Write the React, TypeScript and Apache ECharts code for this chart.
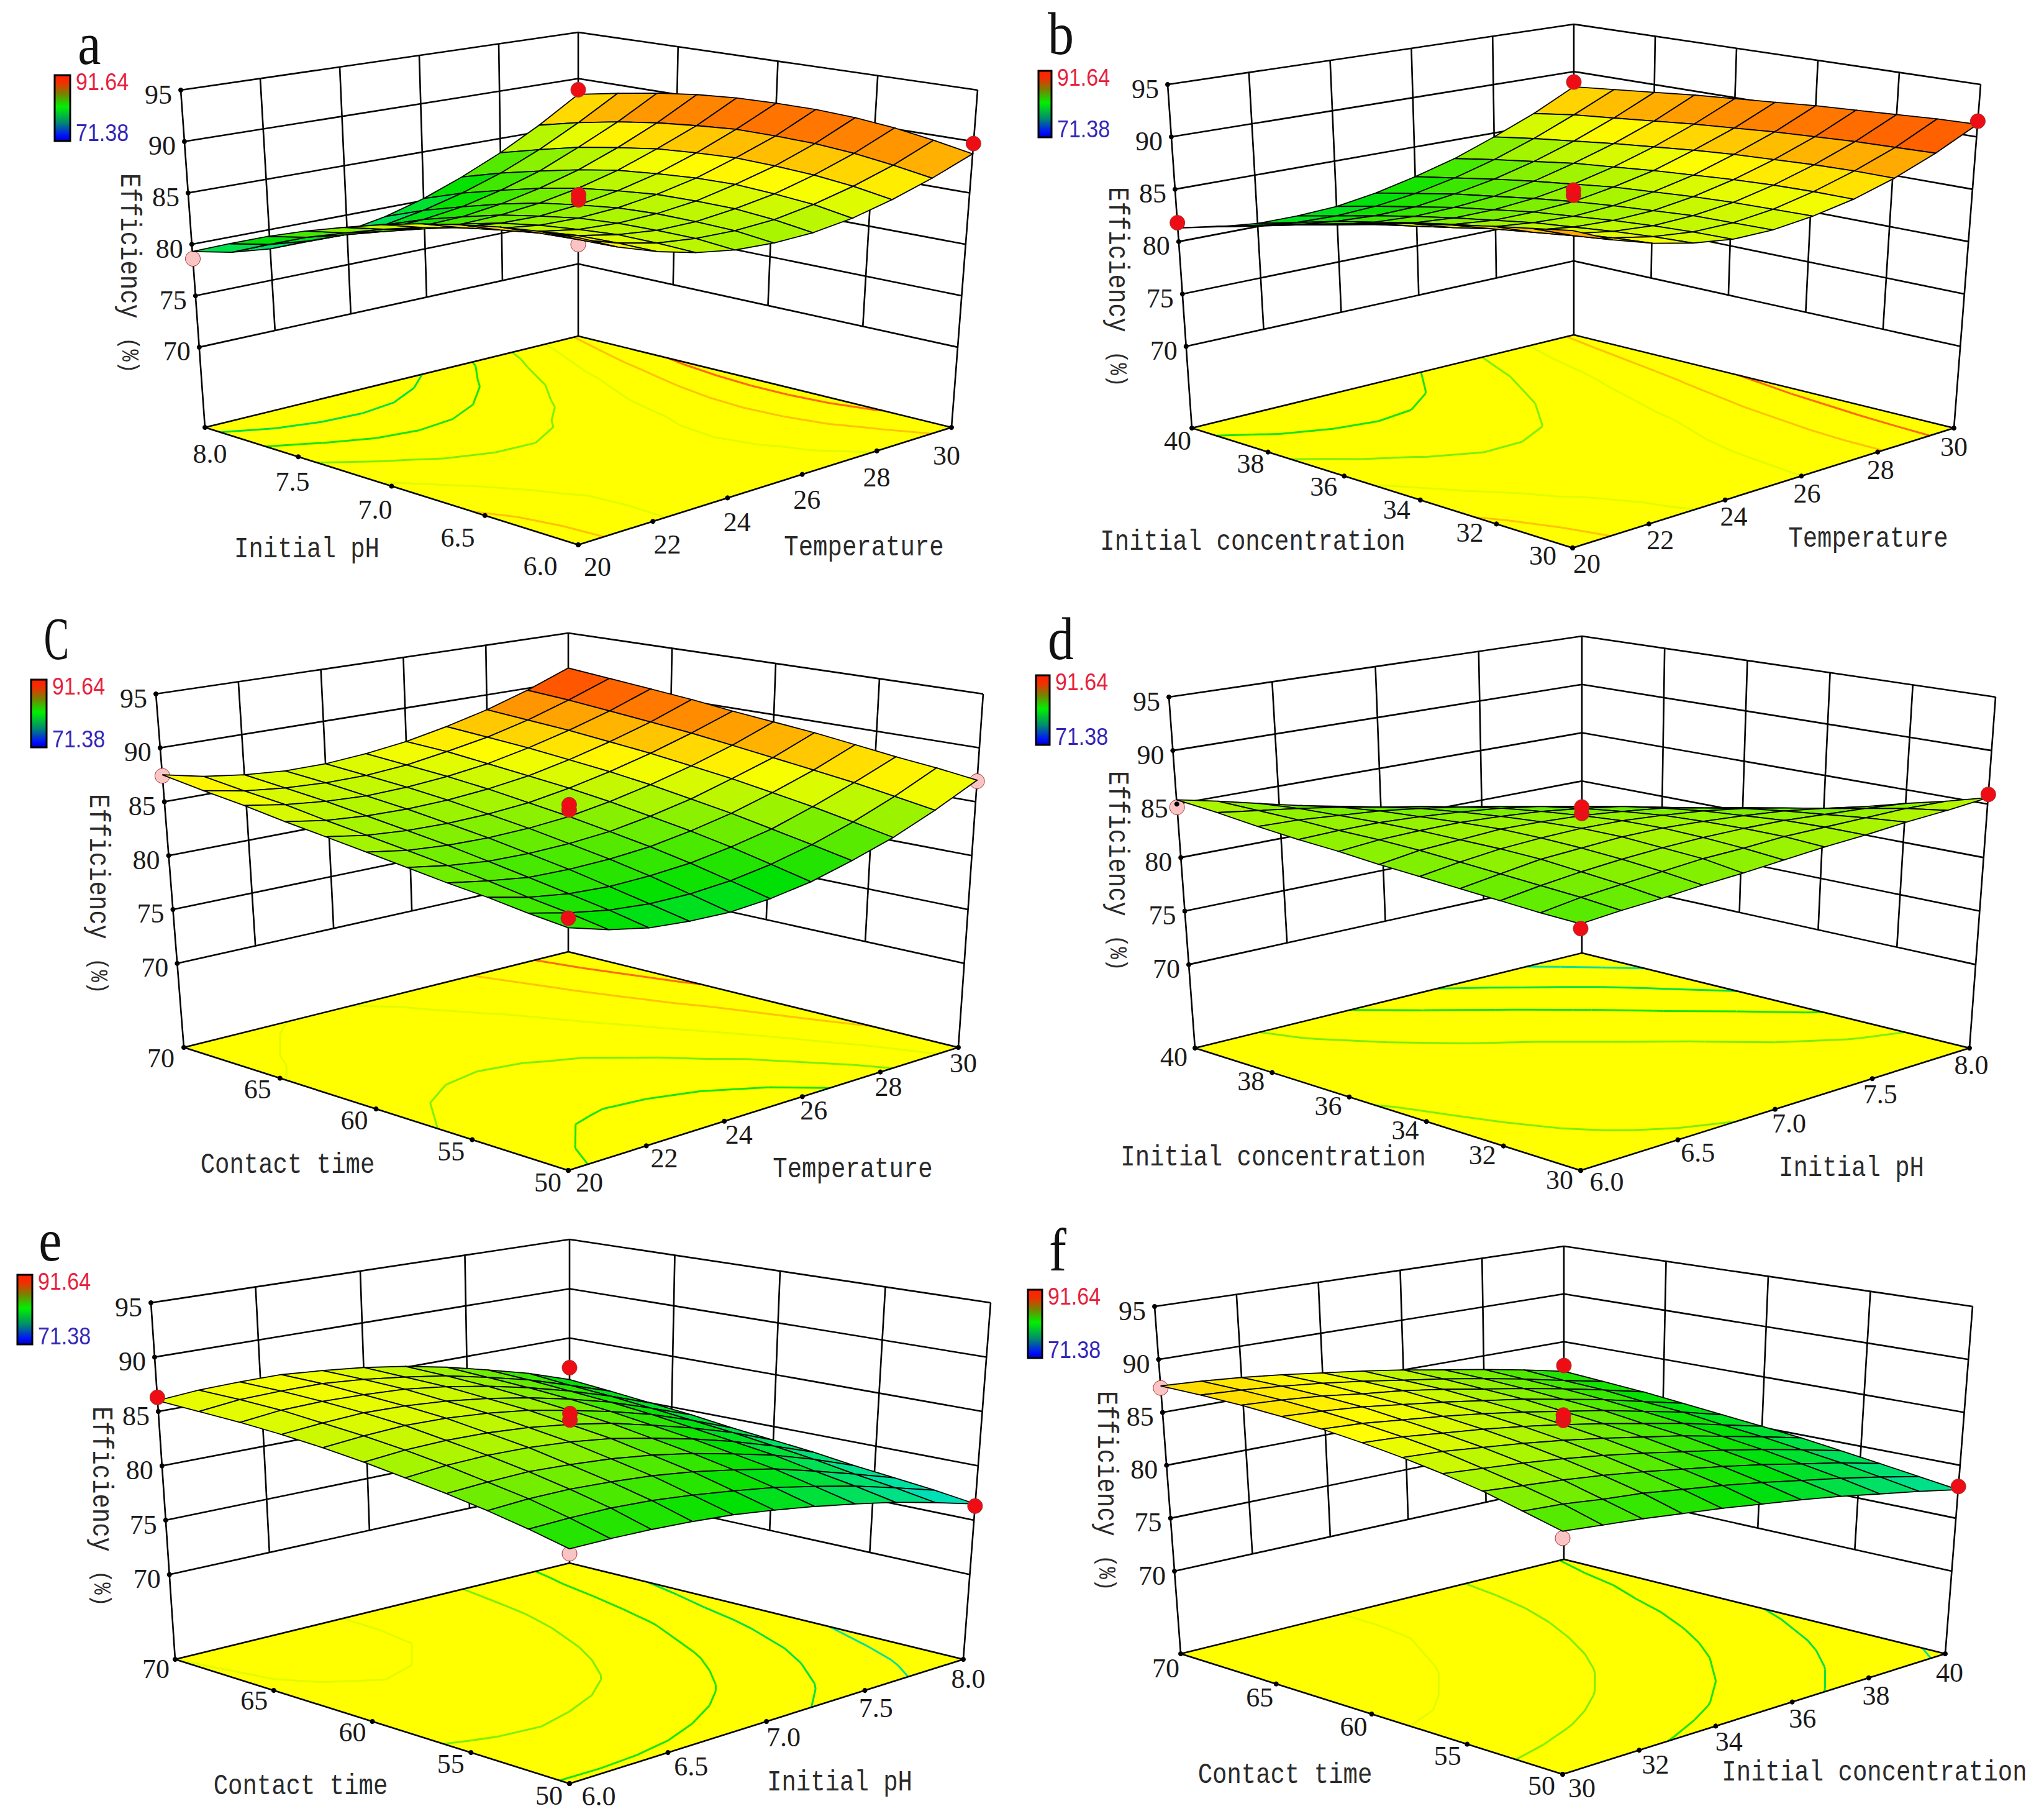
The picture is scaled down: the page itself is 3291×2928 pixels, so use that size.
import React, { useEffect, useRef } from 'react';
import * as echarts from 'echarts';

const PAGE_W = 3291;
const PAGE_H = 2928;

// tick labels, listed from the front corner outwards
const phTicks = ['6.0', '6.5', '7.0', '7.5', '8.0'];
const tempTicks = ['20', '22', '24', '26', '28', '30'];
const concTicks = ['30', '32', '34', '36', '38', '40'];
const timeTicks = ['50', '55', '60', '65', '70'];
const zTicks = [70, 75, 80, 85, 90, 95];
const Z_BASE = 62.2;
const Z_TOP = 95;

const legendMax = '91.64';
const legendMin = '71.38';
const contourLevels = [78, 80, 82, 84, 86, 88, 90];

// efficiency, row = left axis (front to back), column = right axis (front to back)
const surfaceA = [
  [89.1, 87.5, 86.3, 85.4, 84.8, 84.6, 84.7, 85.2, 86.1, 87.3, 88.8],
  [88.9, 87.4, 86.3, 85.5, 85.1, 85.0, 85.2, 85.8, 86.7, 87.9, 89.5],
  [88.5, 87.2, 86.2, 85.5, 85.1, 85.1, 85.5, 86.1, 87.1, 88.4, 90.1],
  [87.9, 86.7, 85.8, 85.2, 85.0, 85.1, 85.5, 86.3, 87.3, 88.7, 90.5],
  [87.2, 86.1, 85.3, 84.8, 84.7, 84.9, 85.4, 86.2, 87.4, 88.8, 90.7],
  [86.3, 85.3, 84.6, 84.2, 84.1, 84.4, 85.0, 85.9, 87.2, 88.8, 90.7],
  [85.2, 84.3, 83.6, 83.3, 83.4, 83.8, 84.5, 85.5, 86.9, 88.5, 90.6],
  [84.0, 83.1, 82.5, 82.3, 82.4, 82.9, 83.7, 84.8, 86.3, 88.1, 90.3],
  [82.6, 81.8, 81.3, 81.1, 81.3, 81.8, 82.7, 83.9, 85.6, 87.5, 89.8],
  [81.0, 80.2, 79.8, 79.7, 79.9, 80.6, 81.6, 82.9, 84.6, 86.7, 89.1],
  [79.3, 78.5, 78.1, 78.1, 78.4, 79.1, 80.2, 81.7, 83.5, 85.7, 88.3],
];
const surfaceB = [
  [89.6, 88.0, 86.9, 86.1, 85.6, 85.6, 86.0, 86.7, 87.8, 89.3, 91.2],
  [89.0, 87.6, 86.6, 85.9, 85.5, 85.5, 85.9, 86.7, 87.8, 89.2, 91.1],
  [88.4, 87.1, 86.2, 85.6, 85.3, 85.4, 85.8, 86.6, 87.7, 89.1, 90.9],
  [87.7, 86.6, 85.7, 85.2, 85.0, 85.1, 85.6, 86.4, 87.5, 88.9, 90.7],
  [87.0, 85.9, 85.2, 84.8, 84.6, 84.8, 85.3, 86.1, 87.3, 88.7, 90.5],
  [86.2, 85.2, 84.6, 84.2, 84.2, 84.4, 85.0, 85.8, 87.0, 88.4, 90.2],
  [85.3, 84.5, 83.9, 83.6, 83.6, 83.9, 84.5, 85.4, 86.6, 88.1, 89.9],
  [84.4, 83.6, 83.1, 82.9, 83.0, 83.3, 84.0, 85.0, 86.2, 87.7, 89.6],
  [83.4, 82.7, 82.3, 82.1, 82.2, 82.7, 83.4, 84.4, 85.7, 87.3, 89.2],
  [82.4, 81.7, 81.3, 81.2, 81.4, 81.9, 82.7, 83.8, 85.2, 86.9, 88.8],
  [81.3, 80.7, 80.3, 80.3, 80.5, 81.1, 82.0, 83.1, 84.6, 86.3, 88.4],
];
const surfaceC = [
  [82.5, 81.5, 80.8, 80.5, 80.4, 80.7, 81.3, 82.3, 83.5, 85.1, 87.0],
  [82.9, 82.1, 81.5, 81.2, 81.2, 81.5, 82.1, 83.0, 84.2, 85.7, 87.5],
  [83.4, 82.6, 82.1, 81.9, 82.0, 82.3, 82.9, 83.7, 84.9, 86.3, 87.9],
  [83.8, 83.2, 82.7, 82.6, 82.7, 83.0, 83.6, 84.4, 85.5, 86.8, 88.4],
  [84.3, 83.7, 83.3, 83.2, 83.3, 83.6, 84.2, 85.0, 86.1, 87.3, 88.9],
  [84.8, 84.2, 83.9, 83.8, 83.9, 84.2, 84.8, 85.6, 86.6, 87.8, 89.3],
  [85.3, 84.7, 84.4, 84.3, 84.4, 84.7, 85.3, 86.1, 87.1, 88.3, 89.7],
  [85.8, 85.2, 84.9, 84.8, 84.9, 85.2, 85.7, 86.5, 87.5, 88.7, 90.2],
  [86.4, 85.8, 85.4, 85.2, 85.3, 85.6, 86.1, 86.9, 87.9, 89.1, 90.6],
  [86.9, 86.2, 85.8, 85.6, 85.6, 85.9, 86.5, 87.2, 88.2, 89.5, 91.0],
  [87.5, 86.7, 86.2, 85.9, 85.9, 86.2, 86.7, 87.5, 88.5, 89.8, 91.4],
];
const surfaceD = [
  [83.0, 83.3, 83.5, 83.8, 84.0, 84.3, 84.6, 84.8, 85.1, 85.3, 85.6],
  [83.1, 83.6, 83.9, 84.2, 84.5, 84.6, 84.8, 84.8, 84.8, 84.8, 84.6],
  [83.3, 83.8, 84.2, 84.5, 84.7, 84.8, 84.8, 84.7, 84.4, 84.1, 83.7],
  [83.5, 84.0, 84.5, 84.7, 84.9, 84.9, 84.7, 84.4, 84.0, 83.4, 82.7],
  [83.7, 84.2, 84.6, 84.8, 84.9, 84.8, 84.5, 84.1, 83.5, 82.7, 81.8],
  [83.9, 84.4, 84.6, 84.8, 84.7, 84.5, 84.1, 83.6, 82.8, 82.0, 80.9],
  [84.2, 84.5, 84.6, 84.6, 84.4, 84.1, 83.6, 83.0, 82.1, 81.2, 80.0],
  [84.4, 84.5, 84.5, 84.3, 84.0, 83.6, 83.0, 82.2, 81.4, 80.3, 79.2],
  [84.7, 84.6, 84.3, 84.0, 83.5, 82.9, 82.2, 81.4, 80.5, 79.5, 78.3],
  [85.1, 84.6, 84.1, 83.5, 82.8, 82.1, 81.3, 80.4, 79.5, 78.5, 77.5],
  [85.4, 84.6, 83.7, 82.8, 82.0, 81.1, 80.2, 79.4, 78.5, 77.6, 76.7],
];
const surfaceE = [
  [81.8, 81.8, 81.7, 81.5, 81.2, 80.7, 80.1, 79.4, 78.6, 77.6, 76.5],
  [82.6, 82.7, 82.7, 82.5, 82.1, 81.6, 81.0, 80.2, 79.3, 78.2, 77.0],
  [83.3, 83.5, 83.5, 83.3, 83.0, 82.5, 81.8, 81.0, 79.9, 78.7, 77.4],
  [83.9, 84.1, 84.2, 84.0, 83.7, 83.2, 82.5, 81.6, 80.6, 79.3, 77.8],
  [84.4, 84.7, 84.8, 84.7, 84.4, 83.9, 83.1, 82.2, 81.1, 79.8, 78.3],
  [84.9, 85.2, 85.3, 85.2, 84.9, 84.4, 83.7, 82.7, 81.6, 80.3, 78.7],
  [85.3, 85.6, 85.8, 85.7, 85.4, 84.9, 84.1, 83.2, 82.1, 80.7, 79.1],
  [85.6, 85.9, 86.1, 86.0, 85.7, 85.2, 84.5, 83.6, 82.5, 81.1, 79.6],
  [85.8, 86.2, 86.3, 86.2, 86.0, 85.5, 84.8, 83.9, 82.8, 81.5, 80.0],
  [85.9, 86.3, 86.4, 86.4, 86.1, 85.6, 85.0, 84.1, 83.1, 81.8, 80.4],
  [86.0, 86.3, 86.4, 86.4, 86.1, 85.7, 85.1, 84.3, 83.3, 82.2, 80.8],
];
const surfaceF = [
  [82.9, 82.6, 82.3, 81.9, 81.5, 81.0, 80.5, 79.9, 79.2, 78.5, 77.7],
  [83.8, 83.6, 83.2, 82.9, 82.4, 81.9, 81.3, 80.6, 79.9, 79.1, 78.2],
  [84.7, 84.4, 84.1, 83.7, 83.2, 82.6, 82.0, 81.3, 80.5, 79.7, 78.7],
  [85.4, 85.1, 84.8, 84.4, 83.9, 83.3, 82.6, 81.9, 81.1, 80.2, 79.2],
  [86.0, 85.8, 85.4, 85.0, 84.5, 83.9, 83.2, 82.5, 81.6, 80.7, 79.7],
  [86.5, 86.3, 85.9, 85.5, 85.0, 84.4, 83.7, 82.9, 82.1, 81.1, 80.1],
  [86.9, 86.7, 86.3, 85.9, 85.4, 84.8, 84.1, 83.4, 82.5, 81.6, 80.5],
  [87.2, 87.0, 86.7, 86.2, 85.7, 85.1, 84.5, 83.7, 82.9, 81.9, 80.9],
  [87.4, 87.2, 86.9, 86.4, 86.0, 85.4, 84.7, 84.0, 83.2, 82.3, 81.3],
  [87.5, 87.3, 87.0, 86.6, 86.1, 85.5, 84.9, 84.2, 83.4, 82.5, 81.6],
  [87.5, 87.3, 87.0, 86.6, 86.1, 85.6, 85.0, 84.3, 83.6, 82.8, 81.9],
];

// design points: [left axis 0..1, right axis 0..1, efficiency]; pink ones sit under the surface
const pinkA = [[1, 0, 78.6], [0, 0, 88.5]];
const redA = [[1, 1, 88.8], [0, 1, 89.8], [0.5, 0.5, 84.9], [0.5, 0.5, 85.4]];
const pinkB: number[][] = [];
const redB = [[1, 0, 81.8], [1, 1, 88.9], [0, 1, 91.5], [0.5, 0.5, 85.0], [0.5, 0.5, 85.5]];
const pinkC = [[1, 0, 87.4], [0, 1, 86.9]];
const redC = [[0, 0, 83.3], [0.5, 0.5, 84.8], [0.5, 0.5, 85.3]];
const pinkD = [[1, 0, 84.7]];
const redD = [[0, 1, 85.9], [0, 0, 82.6], [0.5, 0.5, 84.7], [0.5, 0.5, 85.3]];
const pinkE = [[0, 0, 81.4]];
const redE = [[1, 0, 86.3], [0, 1, 76.3], [1, 1, 82], [0.5, 0.5, 84.8], [0.5, 0.5, 85.4]];
const pinkF = [[1, 0, 87.3], [0, 0, 82.3]];
const redF = [[0, 1, 78], [1, 1, 82.5], [0.5, 0.5, 84.8], [0.5, 0.5, 85.3]];

type Pt = [number, number];

interface Panel {
  letter: string;
  letterAt: Pt;
  leftName: string;
  rightName: string;
  leftTicks: string[];
  rightTicks: string[];
  surface: number[][];
  pink: number[][];
  red: number[][];
  // box corners on the page
  F: Pt; L: Pt; R: Pt; B: Pt;
  TL: Pt; TB: Pt; TR: Pt;
  // label offsets from the tick: near L, near F (left axis), near F, near R (right axis)
  labelOff: [Pt, Pt, Pt, Pt];
  leftNameAt: Pt;
  rightNameAt: Pt;
  effAt: Pt;
  legend: [number, number, number, number];
}

const panels: Panel[] = [
  {
    letter: 'a', letterAt: [144, 70], leftName: 'Initial pH', rightName: 'Temperature',
    leftTicks: phTicks, rightTicks: tempTicks, surface: surfaceA, pink: pinkA, red: redA,
    F: [931, 877], L: [330, 688], R: [1532, 688], B: [931, 541], TL: [291, 145], TB: [931, 52], TR: [1574, 145],
    labelOff: [[8, 42], [-61, 34], [31, 35], [-8, 45]],
    leftNameAt: [494, 885], rightNameAt: [1391, 882], effAt: [207, 438], legend: [88, 121, 25, 106],
  },
  {
    letter: 'b', letterAt: [1708, 54], leftName: 'Initial concentration', rightName: 'Temperature',
    leftTicks: concTicks, rightTicks: tempTicks, surface: surfaceB, pink: pinkB, red: redB,
    F: [2532, 882], L: [1919, 689], R: [3146, 689], B: [2534, 539], TL: [1880, 136], TB: [2534, 39], TR: [3189, 136],
    labelOff: [[-23, 20], [-48, 12], [23, 25], [0, 30]],
    leftNameAt: [2017, 873], rightNameAt: [3008, 868], effAt: [1798, 460], legend: [1672, 114, 21, 107],
  },
  {
    letter: 'C', letterAt: [91, 1028], leftName: 'Contact time', rightName: 'Temperature',
    leftTicks: timeTicks, rightTicks: tempTicks, surface: surfaceC, pink: pinkC, red: redC,
    F: [915, 1884], L: [296, 1686], R: [1543, 1686], B: [915, 1532], TL: [251, 1117], TB: [915, 1019], TR: [1583, 1117],
    labelOff: [[-37, 17], [-33, 19], [34, 19], [8, 25]],
    leftNameAt: [463, 1876], rightNameAt: [1373, 1883], effAt: [157, 1437], legend: [50, 1094, 25, 109],
  },
  {
    letter: 'd', letterAt: [1708, 1028], leftName: 'Initial concentration', rightName: 'Initial pH',
    leftTicks: concTicks, rightTicks: phTicks, surface: surfaceD, pink: pinkD, red: redD,
    F: [2545, 1884], L: [1924, 1687], R: [3171, 1687], B: [2547, 1534], TL: [1882, 1122], TB: [2547, 1024], TR: [3213, 1122],
    labelOff: [[-34, 14], [-34, 15], [42, 18], [3, 27]],
    leftNameAt: [2050, 1864], rightNameAt: [2981, 1881], effAt: [1798, 1400], legend: [1668, 1087, 22, 112],
  },
  {
    letter: 'e', letterAt: [81, 1996], leftName: 'Contact time', rightName: 'Initial pH',
    leftTicks: timeTicks, rightTicks: phTicks, surface: surfaceE, pink: pinkE, red: redE,
    F: [917, 2871], L: [282, 2671], R: [1551, 2671], B: [917, 2516], TL: [243, 2097], TB: [917, 1995], TR: [1595, 2097],
    labelOff: [[-31, 15], [-33, 19], [47, 20], [8, 31]],
    leftNameAt: [484, 2876], rightNameAt: [1352, 2870], effAt: [162, 2423], legend: [28, 2052, 24, 112],
  },
  {
    letter: 'f', letterAt: [1703, 2012], leftName: 'Contact time', rightName: 'Initial concentration',
    leftTicks: timeTicks, rightTicks: concTicks, surface: surfaceF, pink: pinkF, red: redF,
    F: [2516, 2856], L: [1901, 2662], R: [3132, 2662], B: [2518, 2510], TL: [1859, 2103], TB: [2518, 2006], TR: [3176, 2103],
    labelOff: [[-24, 23], [-34, 18], [31, 22], [7, 30]],
    leftNameAt: [2069, 2858], rightNameAt: [3018, 2854], effAt: [1780, 2398], legend: [1655, 2076, 23, 110],
  },
];

// Design-Expert style colour ramp
const rampStops: [number, number[]][] = [
  [71.38, [0, 0, 255]],
  [76.4, [0, 224, 224]],
  [81.5, [0, 224, 0]],
  [86.6, [255, 255, 0]],
  [91.64, [255, 32, 0]],
];

function rampColor(z: number) {
  if (z <= rampStops[0][0]) return 'rgb(0,0,255)';
  for (let k = 1; k < rampStops.length; k++) {
    if (z <= rampStops[k][0]) {
      const [z0, c0] = rampStops[k - 1];
      const [z1, c1] = rampStops[k];
      const t = (z - z0) / (z1 - z0);
      const c = c0.map((v, n) => Math.round(v + (c1[n] - v) * t));
      return `rgb(${c[0]},${c[1]},${c[2]})`;
    }
  }
  return 'rgb(255,32,0)';
}

function makeProjector(p: Panel) {
  // the front top corner is not visible, perspective gives it from the other heights
  const hL = p.L[1] - p.TL[1];
  const hB = p.B[1] - p.TB[1];
  const TF: Pt = [p.F[0], p.F[1] - (hL * hL) / hB];
  const bil = (n: 0 | 1, f: Pt, l: Pt, r: Pt, b: Pt, u: number, v: number) =>
    (1 - u) * (1 - v) * f[n] + u * (1 - v) * l[n] + (1 - u) * v * r[n] + u * v * b[n];
  return (u: number, v: number, z: number): Pt => {
    const w = (z - Z_BASE) / (Z_TOP - Z_BASE);
    const x = bil(0, p.F, p.L, p.R, p.B, u, v) * (1 - w) + bil(0, TF, p.TL, p.TR, p.TB, u, v) * w;
    const y = bil(1, p.F, p.L, p.R, p.B, u, v) * (1 - w) + bil(1, TF, p.TL, p.TR, p.TB, u, v) * w;
    return [x, y];
  };
}

// contour segments of the grid, in axis fractions
function contourSegments(grid: number[][], level: number) {
  const n = grid.length - 1;
  const segs: [Pt, Pt][] = [];
  for (let i = 0; i < n; i++) {
    for (let j = 0; j < n; j++) {
      const corners: [number, number, number][] = [
        [i, j, grid[i][j]],
        [i + 1, j, grid[i + 1][j]],
        [i + 1, j + 1, grid[i + 1][j + 1]],
        [i, j + 1, grid[i][j + 1]],
      ];
      const hits: Pt[] = [];
      for (let k = 0; k < 4; k++) {
        const c0 = corners[k];
        const c1 = corners[(k + 1) % 4];
        if ((c0[2] < level) !== (c1[2] < level)) {
          const t = (level - c0[2]) / (c1[2] - c0[2]);
          hits.push([(c0[0] + (c1[0] - c0[0]) * t) / n, (c0[1] + (c1[1] - c0[1]) * t) / n]);
        }
      }
      if (hits.length >= 2) segs.push([hits[0], hits[1]]);
      if (hits.length === 4) segs.push([hits[2], hits[3]]);
    }
  }
  return segs;
}

type Item =
  | { kind: 'line'; a: Pt; b: Pt; color: string; width: number }
  | { kind: 'poly'; pts: Pt[]; fill: string; stroke?: string; width?: number }
  | { kind: 'dot'; at: Pt; r: number; fill: string; stroke?: string }
  | { kind: 'text'; at: Pt; text: string; align: string };

function buildItems(p: Panel) {
  const project = makeProjector(p);
  const items: Item[] = [];
  const frame = (a: Pt, b: Pt) => items.push({ kind: 'line', a, b, color: '#000', width: 2.6 });

  // walls
  zTicks.forEach((z) => {
    frame(project(1, 0, z), project(1, 1, z));
    frame(project(1, 1, z), project(0, 1, z));
  });
  const nRight = p.rightTicks.length - 1;
  const nLeft = p.leftTicks.length - 1;
  for (let k = 1; k < nRight; k++) frame(project(1, k / nRight, zTicks[0]), project(1, k / nRight, Z_TOP));
  for (let k = 1; k < nLeft; k++) frame(project(k / nLeft, 1, zTicks[0]), project(k / nLeft, 1, Z_TOP));
  frame(project(1, 0, Z_BASE), project(1, 0, Z_TOP));
  frame(project(1, 1, Z_BASE), project(1, 1, Z_TOP));
  frame(project(0, 1, Z_BASE), project(0, 1, Z_TOP));

  // floor and its contours
  items.push({ kind: 'poly', pts: [p.F, p.L, p.B, p.R], fill: '#ffff00' });
  contourLevels.forEach((level) => {
    contourSegments(p.surface, level).forEach(([s0, s1]) => {
      items.push({
        kind: 'line',
        a: project(s0[0], s0[1], Z_BASE),
        b: project(s1[0], s1[1], Z_BASE),
        color: rampColor(level),
        width: 3,
      });
    });
  });
  frame(p.L, p.B);
  frame(p.B, p.R);
  frame(p.L, p.F);
  frame(p.F, p.R);

  const marker = (m: number[], fill: string) =>
    items.push({ kind: 'dot', at: project(m[0], m[1], m[2]), r: 12, fill, stroke: '#a03030' });

  p.pink.forEach((m) => marker(m, '#fbc4c4'));

  // surface cells, far corner first
  const g = p.surface;
  const n = g.length - 1;
  for (let i = n - 1; i >= 0; i--) {
    for (let j = n - 1; j >= 0; j--) {
      const mean = (g[i][j] + g[i + 1][j] + g[i + 1][j + 1] + g[i][j + 1]) / 4;
      items.push({
        kind: 'poly',
        pts: [
          project(i / n, j / n, g[i][j]),
          project((i + 1) / n, j / n, g[i + 1][j]),
          project((i + 1) / n, (j + 1) / n, g[i + 1][j + 1]),
          project(i / n, (j + 1) / n, g[i][j + 1]),
        ],
        fill: rampColor(mean),
        stroke: '#000',
        width: 1.8,
      });
    }
  }

  p.red.forEach((m) => marker(m, '#ee0d14'));

  // axis dots and tick labels
  const lerp = (a: number, b: number, t: number) => a + (b - a) * t;
  zTicks.forEach((z) => {
    const at = project(1, 0, z);
    items.push({ kind: 'dot', at, r: 4, fill: '#000' });
    items.push({ kind: 'text', at: [at[0] - 14, at[1] + 7], text: String(z), align: 'right' });
  });
  p.leftTicks.forEach((label, k) => {
    const t = k / nLeft;
    const at = project(t, 0, Z_BASE);
    const dx = lerp(p.labelOff[1][0], p.labelOff[0][0], t);
    const dy = lerp(p.labelOff[1][1], p.labelOff[0][1], t);
    items.push({ kind: 'dot', at, r: 4, fill: '#000' });
    items.push({ kind: 'text', at: [at[0] + dx, at[1] + dy], text: label, align: 'center' });
  });
  p.rightTicks.forEach((label, k) => {
    const t = k / nRight;
    const at = project(0, t, Z_BASE);
    const dx = lerp(p.labelOff[2][0], p.labelOff[3][0], t);
    const dy = lerp(p.labelOff[2][1], p.labelOff[3][1], t);
    items.push({ kind: 'dot', at, r: 4, fill: '#000' });
    items.push({ kind: 'text', at: [at[0] + dx, at[1] + dy], text: label, align: 'center' });
  });
  return items;
}

function panelSeries(p: Panel) {
  const items = buildItems(p);
  return {
    type: 'custom',
    coordinateSystem: 'cartesian2d',
    silent: true,
    clip: false,
    progressive: 0,
    data: items.map(() => [0, 0]),
    renderItem: (params: any, api: any) => {
      const it = items[params.dataIndex];
      if (it.kind === 'line') {
        const a = api.coord(it.a);
        const b = api.coord(it.b);
        return {
          type: 'line',
          shape: { x1: a[0], y1: a[1], x2: b[0], y2: b[1] },
          style: { stroke: it.color, lineWidth: it.width, fill: 'none' },
        };
      }
      if (it.kind === 'poly') {
        return {
          type: 'polygon',
          shape: { points: it.pts.map((q) => api.coord(q)) },
          style: { fill: it.fill, stroke: it.stroke || 'none', lineWidth: it.width || 0 },
        };
      }
      if (it.kind === 'dot') {
        const c = api.coord(it.at);
        return {
          type: 'circle',
          shape: { cx: c[0], cy: c[1], r: it.r },
          style: { fill: it.fill, stroke: it.stroke || 'none', lineWidth: it.stroke ? 1 : 0 },
        };
      }
      const c = api.coord(it.at);
      return {
        type: 'text',
        x: c[0],
        y: c[1],
        style: {
          text: it.text,
          fill: '#1a1a1a',
          font: '44px "Liberation Serif"',
          align: it.align,
          verticalAlign: 'middle',
        },
      };
    },
  };
}

function panelGraphics(p: Panel) {
  const mono = (text: string, at: Pt, rotation = 0, size = 39) => ({
    type: 'text',
    x: at[0],
    y: at[1],
    rotation,
    scaleY: 1.2,
    silent: true,
    style: {
      text,
      fill: '#2a2a2a',
      font: `${size}px "Liberation Mono"`,
      align: 'center',
      verticalAlign: 'middle',
    },
  });
  const [lx, ly, lw, lh] = p.legend;
  const legendText = (text: string, y: number, fill: string) => ({
    type: 'text',
    x: lx + lw + 9,
    y,
    scaleY: 1.12,
    silent: true,
    style: {
      text,
      fill,
      font: '34px "Liberation Sans"',
      align: 'left',
      verticalAlign: 'middle',
    },
  });
  return [
    {
      type: 'text',
      x: p.letterAt[0],
      y: p.letterAt[1],
      scaleX: p.letter === 'C' ? 0.72 : 1,
      scaleY: 1.15,
      silent: true,
      style: {
        text: p.letter,
        fill: '#111',
        font: '84px "Liberation Serif"',
        align: 'center',
        verticalAlign: 'middle',
      },
    },
    {
      type: 'rect',
      silent: true,
      shape: { x: lx, y: ly, width: lw, height: lh },
      style: {
        stroke: '#000',
        lineWidth: 3,
        fill: new echarts.graphic.LinearGradient(0, 0, 0, 1, [
          { offset: 0, color: '#ff2000' },
          { offset: 0.12, color: '#f03000' },
          { offset: 0.28, color: '#7a8000' },
          { offset: 0.48, color: '#00f000' },
          { offset: 0.72, color: '#008a70' },
          { offset: 0.92, color: '#0010ff' },
          { offset: 1, color: '#0000c0' },
        ]),
      },
    },
    legendText(legendMax, ly + 11, '#e8203c'),
    legendText(legendMin, ly + lh - 13, '#3326b8'),
    mono(p.leftName, p.leftNameAt),
    mono(p.rightName, p.rightNameAt),
    mono('Efficiency', [p.effAt[0], p.effAt[1] - 42], -Math.PI / 2),
    mono('(%)', [p.effAt[0], p.effAt[1] + 134], -Math.PI / 2, 32),
  ];
}

const App: React.FC = () => {
  const chartRef = useRef<HTMLDivElement>(null);

  useEffect(() => {
    if (!chartRef.current) return;
    const chart = echarts.init(chartRef.current, undefined, { renderer: 'svg' });
    chart.setOption({
      animation: false,
      backgroundColor: '#fff',
      grid: { left: 0, right: 0, top: 0, bottom: 0 },
      xAxis: { type: 'value', min: 0, max: PAGE_W, show: false },
      yAxis: { type: 'value', min: 0, max: PAGE_H, inverse: true, show: false },
      series: panels.map(panelSeries),
      graphic: { elements: panels.flatMap(panelGraphics) },
    });
    return () => {
      chart.dispose();
    };
  }, []);

  return (
    <div
      ref={chartRef}
      style={{ position: 'absolute', left: 0, top: 0, width: PAGE_W, height: PAGE_H }}
    />
  );
};

export default App;
